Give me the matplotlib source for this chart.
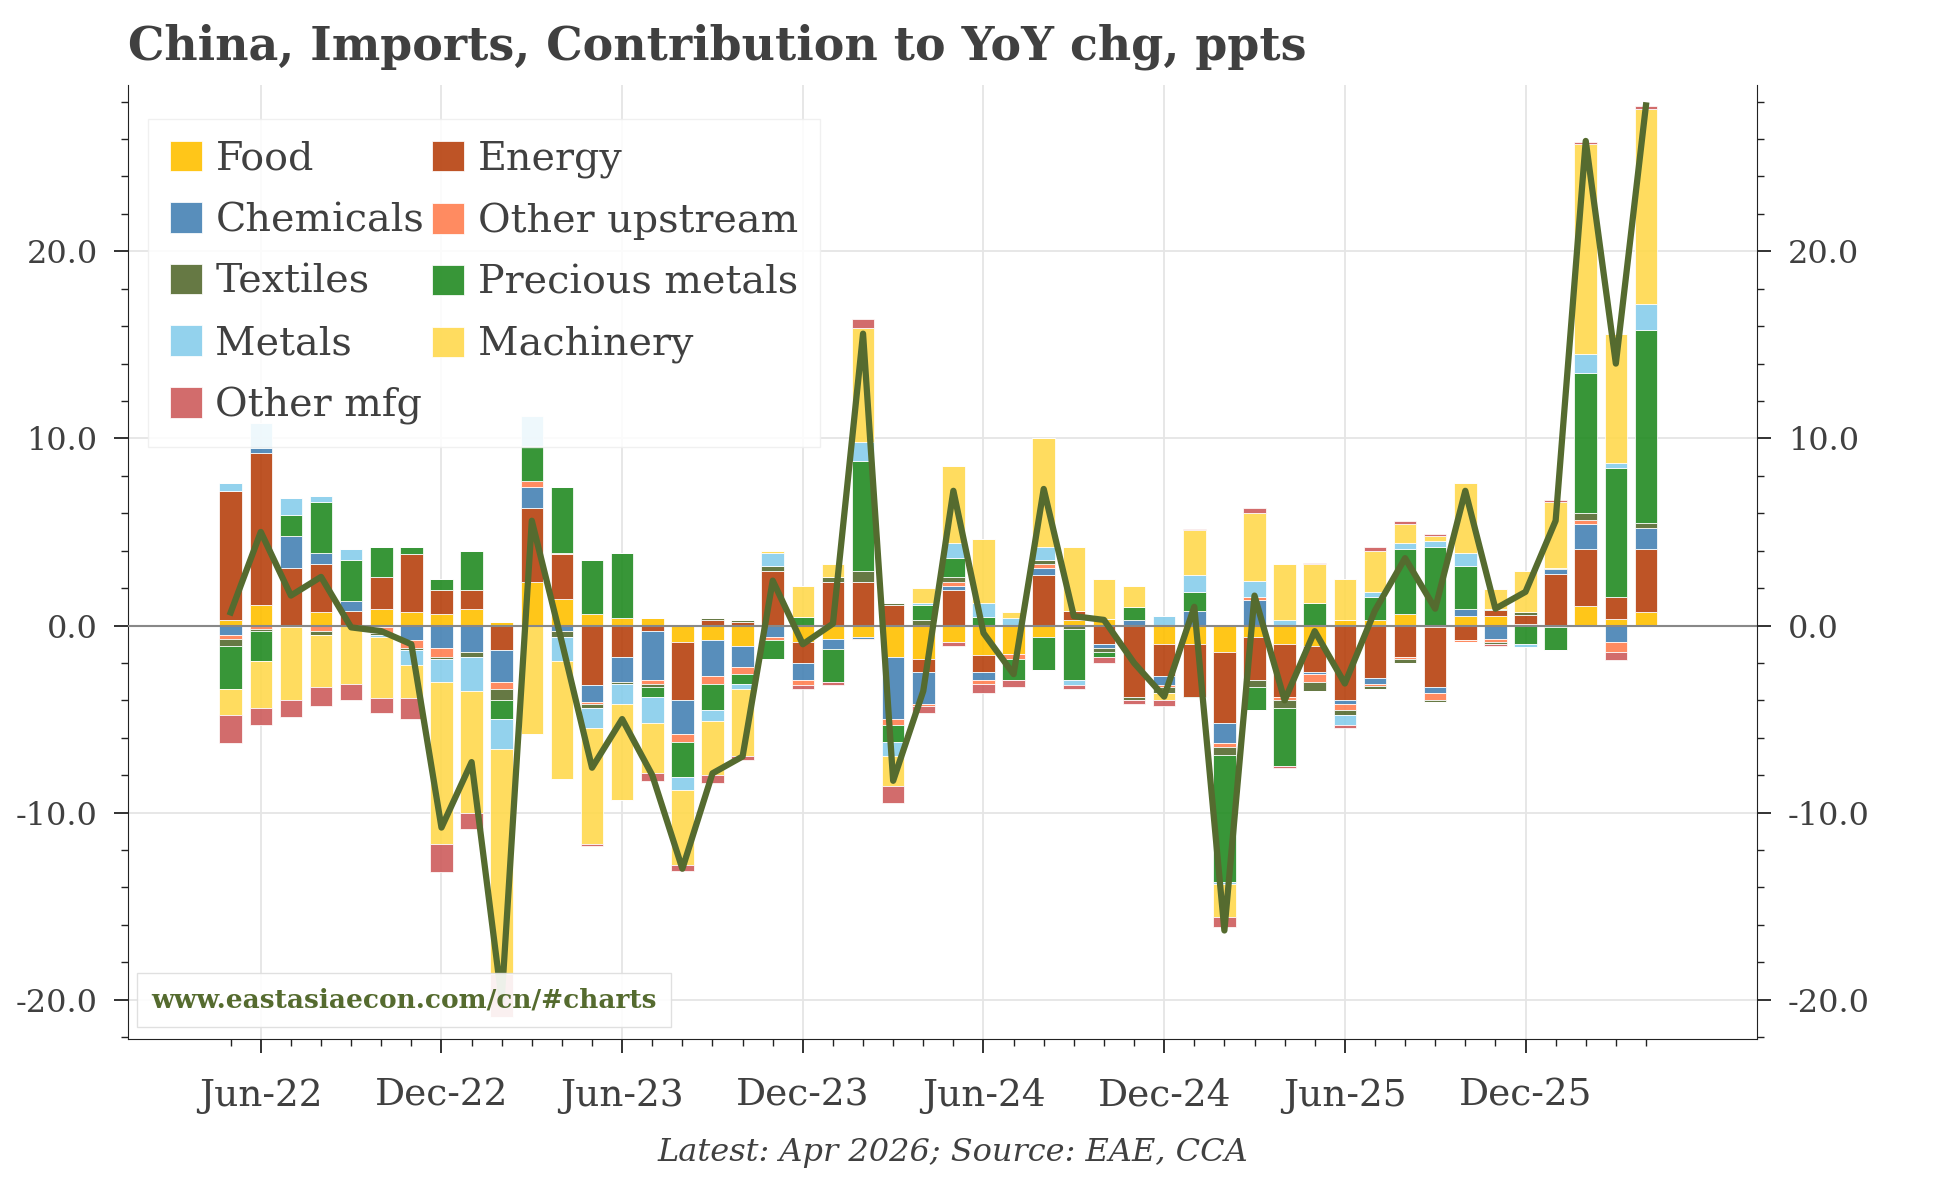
import numpy as np
import pandas as pd
import matplotlib
matplotlib.use('Agg')
from matplotlib import pyplot as plt
from matplotlib.ticker import MultipleLocator, FixedLocator

# Monthly, May-22 .. Apr-26
months = pd.date_range('2022-05-01', '2026-04-01', freq='MS')

food = [0.3, 1.1, 0.0, 0.7, 0.0, 0.9, 0.7, 0.6, 0.9, 0.2, 2.3, 1.4,
        0.6, 0.4, 0.4, -0.9, -0.8, -1.1, 0.0, -0.9, -0.7, -0.6, -1.7, -1.8,
        -0.9, -1.6, -1.5, -0.6, 0.3, 0.35, 0.0, -1.0, -1.0, -1.4, -0.6, -1.0,
        -1.1, 0.3, 0.3, 0.6, -0.1, 0.5, 0.5, 0.1, -0.1, 1.05, 0.35, 0.7]
energy = [6.9, 8.1, 3.1, 2.6, 0.8, 1.7, 3.1, 1.3, 1.0, -1.3, 4.0, 2.4,
          -3.2, -1.7, -0.3, -3.1, 0.3, 0.2, 2.9, -1.1, 2.3, 2.3, 1.1, -0.7,
          1.9, -0.9, 0.0, 2.7, 0.5, -1.0, -3.8, -1.7, -2.8, -3.8, -2.3, -2.8,
          -1.4, -4.0, -2.8, -1.7, -3.2, -0.8, 0.35, 0.45, 2.75, 3.05, 1.2, 3.4]
chemicals = [-0.5, 0.3, 1.7, 0.6, 0.5, -0.1, -0.8, -1.2, -1.4, -1.7, 1.1, -0.3,
             -0.9, -1.3, -2.6, -1.8, -1.9, -1.1, -0.6, -0.9, -0.55, -0.1, -3.3, -1.7,
             0.2, -0.4, 0.0, 0.4, 0.0, -0.2, 0.3, -0.5, 0.8, -1.1, 1.35, 0.0,
             -0.1, -0.2, -0.3, 0.0, -0.3, 0.4, -0.7, 0.0, 0.25, 1.35, -0.9, 1.1]
other_up = [-0.2, -0.2, -0.1, -0.3, 0.0, -0.3, -0.4, -0.5, 0.0, -0.4, 0.3, 0.1,
            -0.1, 0.0, -0.2, -0.4, -0.4, -0.4, -0.2, -0.3, 0.0, -0.1, -0.3, -0.1,
            0.2, -0.2, -0.3, 0.2, 0.0, 0.0, 0.0, -0.1, 0.0, -0.2, 0.15, -0.2,
            -0.4, -0.3, -0.15, -0.1, -0.4, -0.1, -0.2, 0.0, 0.0, 0.2, -0.5, 0.0]
textiles = [-0.4, -0.1, 0.0, -0.2, 0.0, -0.1, -0.1, -0.1, -0.3, -0.6, 0.0, -0.3,
            -0.2, -0.1, -0.2, 0.0, 0.1, 0.1, 0.3, 0.0, 0.3, 0.6, 0.1, 0.3,
            0.3, 0.0, 0.0, 0.2, -0.2, -0.2, -0.2, -0.3, -0.1, -0.4, -0.4, -0.4,
            -0.5, -0.3, -0.15, -0.2, -0.1, 0.0, -0.1, 0.15, 0.1, 0.35, 0.0, 0.3]
precious = [-2.3, -1.6, 1.1, 2.7, 2.2, 1.6, 0.4, 0.6, 2.1, -1.0, 1.9, 3.5,
            2.9, 3.5, -0.5, -1.9, -1.4, -0.5, -1.0, 0.45, -1.75, 5.9, -0.9, 0.8,
            1.0, 0.45, -1.1, -1.8, -2.7, -0.3, 0.7, 0.0, 1.0, -6.8, -1.2, -3.1,
            1.2, 0.0, 1.2, 3.5, 4.2, 2.3, 0.05, -1.0, -1.2, 7.5, 6.85, 10.3]
metals = [0.4, 1.3, 0.9, 0.3, 0.6, -0.1, -0.8, -1.2, -1.8, -1.6, 1.6, -1.3,
          -1.1, -1.1, -1.4, -0.7, -0.6, -0.3, 0.7, 0.0, 0.0, 1.0, -0.8, 0.1,
          0.8, 0.75, 0.4, 0.7, -0.3, 0.0, 0.0, 0.5, 0.9, -0.1, 0.9, 0.3,
          0.0, -0.5, 0.3, 0.3, 0.3, 0.7, 0.0, -0.15, 0.0, 1.0, 0.3, 1.4]
machinery = [-1.4, -2.5, -3.9, -2.8, -3.1, -3.3, -1.8, -8.7, -6.5, -12.0, -5.8, -6.3,
             -6.2, -5.1, -2.7, -4.0, -2.9, -3.6, 0.1, 1.65, 0.7, 6.1, -1.6, 0.8,
             4.1, 3.4, 0.3, 5.8, 3.4, 2.15, 1.1, -0.4, 2.4, -1.8, 3.6, 3.0,
             2.1, 2.2, 2.2, 1.0, 0.3, 3.7, 1.05, 2.2, 3.5, 11.25, 6.9, 10.4]
other_mfg = [-1.5, -0.9, -0.9, -1.0, -0.9, -0.8, -1.1, -1.5, -0.9, -2.3, 0.0, 0.0,
             -0.1, 0.0, -0.4, -0.3, -0.4, -0.2, 0.0, -0.2, -0.2, 0.5, -0.9, -0.4,
             -0.2, -0.5, -0.4, 0.0, -0.2, -0.3, -0.2, -0.3, 0.05, -0.5, 0.3, -0.1,
             0.05, -0.2, 0.2, 0.2, 0.1, 0.0, -0.1, 0.0, 0.1, 0.1, -0.45, 0.15]
total = [0.7, 5.0, 1.6, 2.6, -0.1, -0.3, -1.0, -10.8, -7.3, -20.0, 5.6, -0.9,
         -7.6, -5.0, -8.0, -13.0, -7.9, -7.0, 2.4, -1.0, 0.1, 15.6, -8.3, -3.5,
         7.2, -0.4, -2.6, 7.3, 0.5, 0.3, -2.0, -3.8, 1.0, -16.3, 1.6, -4.0,
         -0.3, -3.1, 0.8, 3.6, 0.9, 7.2, 0.9, 1.8, 5.6, 25.9, 14.0, 27.8]

names = ['Food', 'Energy', 'Chemicals', 'Other upstream', 'Textiles',
         'Precious metals', 'Metals', 'Machinery', 'Other mfg']
series = [food, energy, chemicals, other_up, textiles, precious, metals, machinery, other_mfg]
colors = ['#FFC000', '#B7410E', '#4682B4', '#FF7F50', '#556B2F',
          '#228B22', '#87CEEB', '#FFD94D', '#CD5C5C']

txt = '#404040'
plt.rcParams['font.family'] = ['DejaVu Serif']
fig = plt.figure(figsize=(19.44, 11.78), dpi=100)
ax = fig.add_axes([0.066, 0.118, 0.838, 0.81])

x = np.arange(len(months))
pos_base = np.zeros(len(x))
neg_base = np.zeros(len(x))
handles = []
for name, vals, col in zip(names, series, colors):
    v = np.array(vals, dtype=float)
    p = np.where(v > 0, v, 0)
    n = np.where(v < 0, v, 0)
    h = ax.bar(x, p, 0.75, bottom=pos_base, color=col, alpha=0.9,
               edgecolor='white', linewidth=0.6, label=name, zorder=2)
    ax.bar(x, n, 0.75, bottom=neg_base, color=col, alpha=0.9,
           edgecolor='white', linewidth=0.6, zorder=2)
    pos_base += p
    neg_base += n
    handles.append(h)

ax.plot(x, total, color='#556B2F', lw=4.5, zorder=4)
ax.axhline(0, color='#888888', lw=1.5, zorder=3)

ax.set_xlim(-3.4, 50.7)
ax.set_ylim(-22.1, 28.9)
ax.yaxis.set_major_locator(MultipleLocator(10))
ax.yaxis.set_minor_locator(MultipleLocator(2))
ax.yaxis.set_major_formatter(matplotlib.ticker.FormatStrFormatter('%.1f'))
major_idx = [i for i, d in enumerate(months) if d.month in (6, 12)]
ax.xaxis.set_major_locator(FixedLocator(major_idx))
ax.xaxis.set_minor_locator(FixedLocator(x))
ax.set_xticklabels([months[i].strftime('%b-%y') for i in major_idx])
ax.grid(True, color='#e5e5e5', lw=1.3, zorder=0)
ax.set_axisbelow(True)
for s in ['top', 'right']:
    ax.spines[s].set_visible(False)
ax.spines['left'].set_color('#222222')
ax.spines['bottom'].set_color('#222222')
ax.tick_params(axis='both', which='major', colors='#222222',
               labelcolor=txt, length=10, width=1.3, direction='out', pad=12)
ax.tick_params(axis='y', labelsize=23)
ax.tick_params(axis='x', labelsize=27, pad=18)
ax.tick_params(axis='both', which='minor', length=5, width=1.0, colors='#222222')

ax2 = ax.twinx()
ax2.set_ylim(ax.get_ylim())
ax2.yaxis.set_major_locator(MultipleLocator(10))
ax2.yaxis.set_minor_locator(MultipleLocator(2))
ax2.yaxis.set_major_formatter(matplotlib.ticker.FormatStrFormatter('%.1f'))
for s in ['top', 'left', 'bottom']:
    ax2.spines[s].set_visible(False)
ax2.spines['right'].set_color('#222222')
ax2.tick_params(axis='y', which='major', labelsize=23, colors='#222222',
                labelcolor=txt, length=10, width=1.3, pad=12)
ax2.tick_params(axis='y', which='minor', length=5, width=1.0, colors='#222222')

# legend: column 1 / column 2 as in the original
order = [0, 2, 4, 6, 8, 1, 3, 5, 7]
leg = ax.legend([handles[i] for i in order], [names[i] for i in order],
                ncol=2, loc='upper left', bbox_to_anchor=(0.0, 0.985),
                fontsize=28.5, frameon=True, framealpha=0.85, edgecolor='#eeeeee',
                fancybox=False, handlelength=0.8, handleheight=0.8,
                handletextpad=0.35, columnspacing=0.2, labelspacing=0.62,
                borderpad=0.55)
for t in leg.get_texts():
    t.set_color(txt)
leg.set_zorder(5)

ax.text(0.014, 0.033, 'www.eastasiaecon.com/cn/#charts', transform=ax.transAxes,
        fontsize=19, fontweight='bold', color='#556B2F', zorder=6,
        bbox=dict(boxstyle='square,pad=0.55', fc='white', ec='#dddddd', alpha=0.9))

fig.text(0.066, 0.96, 'China, Imports, Contribution to YoY chg, ppts',
         fontsize=33, fontweight='bold', color=txt, va='center')
fig.text(0.49, 0.022, 'Latest: Apr 2026; Source: EAE, CCA', fontsize=23,
         style='italic', color=txt, ha='center', va='center')

plt.savefig('out.png', dpi=100)
